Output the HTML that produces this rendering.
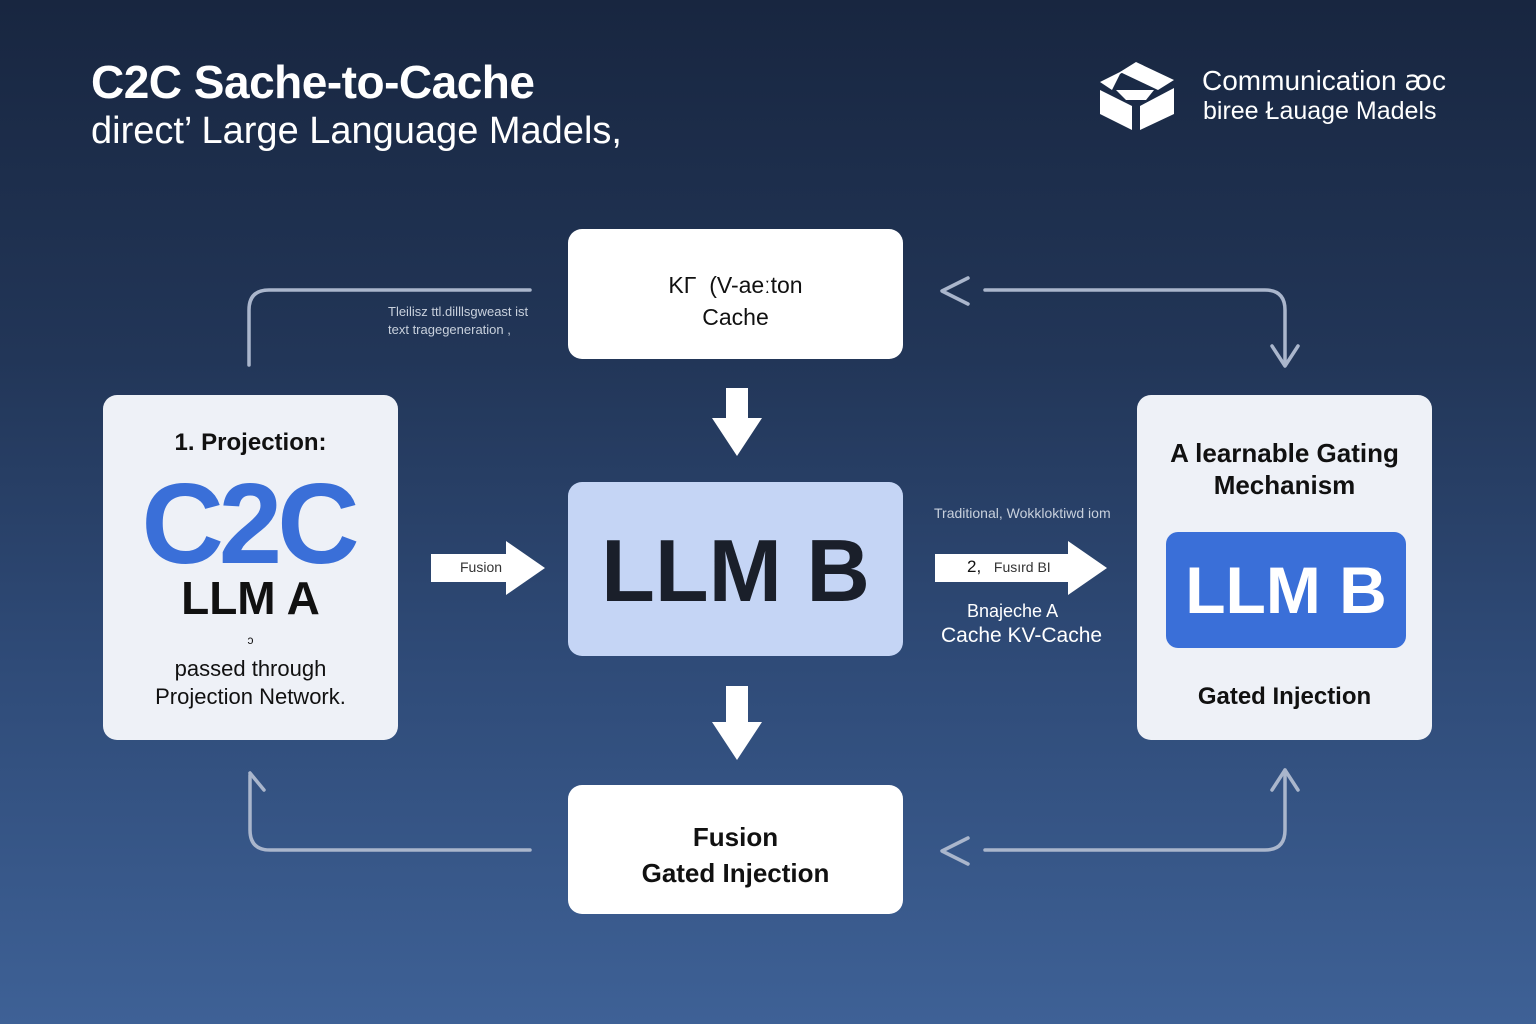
<!DOCTYPE html>
<html><head><meta charset="utf-8"><style>
*{margin:0;padding:0;box-sizing:border-box}
body{width:1536px;height:1024px;overflow:hidden;position:relative;font-family:"Liberation Sans",sans-serif;
background:linear-gradient(180deg,#182640 0%,#223658 35%,#2f4b78 65%,#3e6196 100%);}
.t{position:absolute;white-space:nowrap}
.box{position:absolute;border-radius:14px;background:#eef1f7;text-align:center;color:#111}
.a{position:absolute;left:0;width:100%;text-align:center}
</style></head><body>
<div class="t" style="left:91px;top:55px;font-size:46px;font-weight:bold;color:#fff;letter-spacing:-0.5px">C2C Sache-to-Cache</div>
<div class="t" style="left:91px;top:110px;font-size:38px;color:#fff">direct’ Large Language Madels,</div>
<svg style="position:absolute;left:1098px;top:60px" width="80" height="72" viewBox="0 0 80 72">
<polygon points="38,2 76,20 60,30 22,12" fill="#fff"/><polygon points="2,22 38,4 22,14 14,30" fill="#fff"/>
<polygon points="2,30 34,46 34,70 2,54" fill="#fff"/><polygon points="42,46 76,28 76,54 42,70" fill="#fff"/>
<polygon points="18,30 56,30 48,40 28,40" fill="#fff"/></svg>
<div class="t" style="left:1202px;top:64px;font-size:28px;color:#fff">Communication ꜵc</div>
<div class="t" style="left:1203px;top:97px;font-size:25px;color:#fff">biree Łauage Madels</div>

<svg style="position:absolute;left:0;top:0" width="1536" height="1024">
<g fill="none" stroke="#aab6cc" stroke-width="3.5" stroke-linecap="round" stroke-linejoin="round">
<path d="M249 365 V310 Q249 290 269 290 H530"/>
<path d="M985 290 H1265 Q1285 290 1285 310 V365"/><path d="M1272 346 L1285 366 L1298 346"/>
<path d="M968 278 L942 291 L968 304"/>
<path d="M530 850 H270 Q250 850 250 830 V775"/><path d="M250 773 L264 790"/>
<path d="M985 850 H1265 Q1285 850 1285 830 V770"/><path d="M1272 790 L1285 770 L1298 790"/>
<path d="M968 838 L942 851 L968 864"/>
</g>
<g fill="#fff">
<polygon points="726,388 748,388 748,418 762,418 737,456 712,418 726,418"/>
<polygon points="726,686 748,686 748,722 762,722 737,760 712,722 726,722"/>
<polygon points="431,554 506,554 506,541 545,568 506,595 506,582 431,582"/>
<polygon points="935,554 1068,554 1068,541 1107,568 1068,595 1068,582 935,582"/>
</g></svg>

<div class="t" style="left:388px;top:304px;font-size:13px;color:#c8d0dc">Tleilisz ttl.dilllsgweast ist</div>
<div class="t" style="left:388px;top:322px;font-size:13px;color:#c8d0dc">text tragegeneration ,</div>
<div class="t" style="left:934px;top:505px;font-size:14px;color:#c8d0dc">Traditional, Wokkloktiwd iom</div>
<div class="t" style="left:460px;top:559px;font-size:14px;color:#333">Fusion</div>
<div class="t" style="left:967px;top:557px;font-size:17px;color:#111">2, <span style="font-size:14px;margin-left:8px;color:#333">Fusırd BI</span></div>
<div class="t" style="left:967px;top:601px;font-size:18px;color:#fff">Bnajeche A</div>
<div class="t" style="left:941px;top:624px;font-size:21px;color:#fff">Cache KV-Cache</div>

<div class="box" style="left:568px;top:229px;width:335px;height:130px;background:#fff">
<div style="margin-top:40px;font-size:23px;line-height:32px">KΓ&nbsp; (V-aeːton<br>Cache</div></div>

<div class="box" style="left:103px;top:395px;width:295px;height:345px">
<div class="a" style="top:34px;font-size:24px;font-weight:bold">1. Projection:</div>
<div class="a" style="top:70px;font-size:114px;font-weight:bold;color:#3a6fd8;letter-spacing:-5px;line-height:120px;text-indent:-5px">C2C</div>
<div class="a" style="top:178px;font-size:46px;font-weight:bold;line-height:50px">LLM A</div>
<div class="a" style="top:238px;font-size:12px">ↄ</div>
<div class="a" style="top:260px;font-size:22px;line-height:28px">passed through<br>Projection Network.</div></div>

<div class="box" style="left:568px;top:482px;width:335px;height:174px;background:#c5d5f5">
<div style="margin-top:44px;font-size:88px;font-weight:bold;color:#1a1f2a;line-height:90px">LLM B</div></div>

<div class="box" style="left:1137px;top:395px;width:295px;height:345px">
<div style="margin-top:42px;font-size:26px;font-weight:bold;line-height:32px">A learnable Gating<br>Mechanism</div>
<div style="position:absolute;left:29px;top:137px;width:240px;height:116px;background:#3a6fd8;border-radius:12px;color:#fff;font-size:66px;font-weight:bold;line-height:116px">LLM B</div>
<div style="position:absolute;left:0;width:100%;top:288px;font-size:24px;font-weight:bold">Gated Injection</div></div>

<div class="box" style="left:568px;top:785px;width:335px;height:129px;background:#fff">
<div style="margin-top:34px;font-size:26px;font-weight:bold;line-height:36px">Fusion<br>Gated Injection</div></div>
</body></html>
